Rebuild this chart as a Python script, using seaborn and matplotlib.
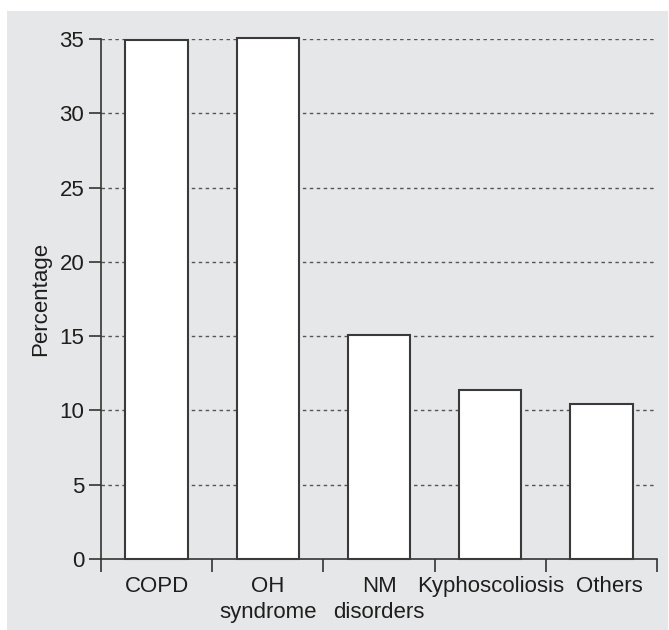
import matplotlib
matplotlib.use("Agg")
import matplotlib.pyplot as plt
from matplotlib.patches import Rectangle
from matplotlib.ticker import FixedLocator
from matplotlib.transforms import ScaledTranslation
import seaborn as sns

categories = ["COPD", "OH\nsyndrome", "NM\ndisorders", "Kyphoscoliosis", "Others"]
values = [34.95, 35.1, 15.07, 11.35, 10.43]
yticks = [0, 5, 10, 15, 20, 25, 30, 35]

sns.set_style("white")
plt.rcParams['font.family'] = ['Liberation Sans', 'DejaVu Sans']

W, H = 669, 630
fig = plt.figure(figsize=(W / 100, H / 100), dpi=100, facecolor="white")
fig.patches.append(Rectangle((7 / W, 0), (668 - 7) / W, (630 - 11) / H,
                             transform=fig.transFigure, facecolor="#e6e7e9",
                             edgecolor="none", zorder=-5))

ax = fig.add_axes([101 / W, 1 - 559 / H, (657 - 101) / W, (559 - 39) / H])
ax.set_facecolor("none")

sns.barplot(x=categories, y=values, color="white", edgecolor="#3a3a3a",
            linewidth=1.5, width=0.56, saturation=1, ax=ax, zorder=3)
for p in ax.patches:
    p.set_clip_on(False)

ax.set_xlim(-0.5, 4.5)
ax.set_ylim(0, 35)
ax.set_yticks(yticks)
for y in yticks[1:]:
    ax.axhline(y, color="#555555", lw=1.0, ls=(0, (2.5, 2.5)), zorder=1)

for s in ["top", "right"]:
    ax.spines[s].set_visible(False)
for s in ["left", "bottom"]:
    ax.spines[s].set_color("#333333")
    ax.spines[s].set_linewidth(1.2)

txt = "#1e1e1e"
fs = 16
ax.tick_params(axis="y", direction="out", length=8.6, width=1.2, color="#333333",
               pad=3.5, labelsize=fs, labelcolor=txt, left=True)
ax.xaxis.set_minor_locator(FixedLocator([-0.5, 0.5, 1.5, 2.5, 3.5, 4.5]))
ax.tick_params(axis="x", which="major", length=0, pad=12.5, labelsize=fs, labelcolor=txt)
ax.tick_params(axis="x", which="minor", direction="out", length=9.5, width=1.2,
               color="#333333", bottom=True)

ax.set_xlabel("")
ax.set_ylabel("Percentage", fontsize=fs, color=txt)
ax.yaxis.set_label_coords(-0.09, 0.5)

labs = ax.get_xticklabels()
for lab in labs:
    lab.set_linespacing(1.3)
labs[-1].set_transform(labs[-1].get_transform() +
                       ScaledTranslation(8 / 100, 0, fig.dpi_scale_trans))

fig.savefig("out.png", dpi=100, facecolor="white")
